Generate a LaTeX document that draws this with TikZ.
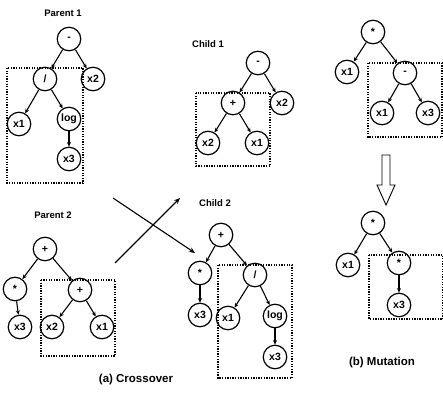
\documentclass[tikz,border=0pt]{standalone}
\usepackage{fontspec}
\setmainfont{Liberation Sans}
\usetikzlibrary{arrows.meta,calc}
\begin{document}
\begin{tikzpicture}[x=1pt,y=-1pt,
  tn/.style={circle,draw,line width=1.2pt,minimum size=23.5pt,inner sep=0pt,font=\bfseries\fontsize{10.5}{10.5}\selectfont},
  ttl/.style={font=\bfseries\fontsize{9.5}{9.5}\selectfont},
  captext/.style={font=\bfseries\fontsize{11.5}{11.5}\selectfont},
  ed/.style={line width=1.1pt,-{Stealth[length=4.5pt,width=4pt]}},
  subbox/.style={line width=1.3pt,dash pattern=on 1.3pt off 1.3pt},
  xarrow/.style={line width=1.1pt,-{Stealth[length=6pt,width=5pt]}}]
\useasboundingbox (0,0) rectangle (443,395);

% Parent 1
\node[ttl] (t1) at (63,13) {Parent 1};
\node[tn] (p1r) at (69,39) {-};
\node[tn] (p1d) at (45,79) {/};
\node[tn] (p1x2) at (93,79) {x2};
\node[tn] (p1x1) at (19,124) {x1};
\node[tn] (p1log) at (69,119) {log};
\node[tn] (p1x3) at (69,159) {x3};
\draw[ed] (p1r) -- (p1d);
\draw[ed] (p1r) -- (p1x2);
\draw[ed] (p1d) -- (p1x1);
\draw[ed] (p1d) -- (p1log);
\draw[ed] (p1log) -- (p1x3);
\draw[subbox] (7,68) rectangle (83,183);

% Child 1
\node[ttl] (t2) at (208,44) {Child 1};
\node[tn] (c1r) at (258,63) {-};
\node[tn] (c1p) at (233,103) {+};
\node[tn] (c1x2r) at (282,103) {x2};
\node[tn] (c1x2) at (208,143) {x2};
\node[tn] (c1x1) at (257,143) {x1};
\draw[ed] (c1r) -- (c1p);
\draw[ed] (c1r) -- (c1x2r);
\draw[ed] (c1p) -- (c1x2);
\draw[ed] (c1p) -- (c1x1);
\draw[subbox] (196,93) rectangle (270,166);

% Parent 2
\node[ttl] (t3) at (53,215) {Parent 2};
\node[tn] (p2r) at (45,249) {+};
\node[tn] (p2m) at (15,289) {*};
\node[tn] (p2p) at (80,290) {+};
\node[tn] (p2x3) at (20,327) {x3};
\node[tn] (p2x2) at (52,327) {x2};
\node[tn] (p2x1) at (102,327) {x1};
\draw[ed] (p2r) -- (p2m);
\draw[ed] (p2r) -- (p2p);
\draw[ed] (p2m) -- (p2x3);
\draw[ed] (p2p) -- (p2x2);
\draw[ed] (p2p) -- (p2x1);
\draw[subbox] (41,280) rectangle (115,356);

% Child 2
\node[ttl] (t4) at (215,203) {Child 2};
\node[tn] (c2r) at (221,235) {+};
\node[tn] (c2m) at (200,273) {*};
\node[tn] (c2d) at (255,275) {/};
\node[tn] (c2x3a) at (200,315) {x3};
\node[tn] (c2x1) at (228,318) {x1};
\node[tn] (c2log) at (275,316) {log};
\node[tn] (c2x3) at (275,357) {x3};
\draw[ed] (c2r) -- (c2m);
\draw[ed] (c2r) -- (c2d);
\draw[ed] (c2m) -- (c2x3a);
\draw[ed] (c2d) -- (c2x1);
\draw[ed] (c2d) -- (c2log);
\draw[ed] (c2log) -- (c2x3);
\draw[subbox] (218,265) rectangle (292,378);

% crossover arrows
\coordinate (xa1) at (113,198);
\coordinate (xb1) at (195,253);
\coordinate (xa2) at (115,263);
\coordinate (xb2) at (180,198);
\draw[xarrow] (xa1) -- (xb1);
\draw[xarrow] (xa2) -- (xb2);

% Mutation, before
\node[tn] (m1r) at (373,32) {*};
\node[tn] (m1x1) at (347,72) {x1};
\node[tn] (m1s) at (405,73) {-};
\node[tn] (m1x1b) at (382,113) {x1};
\node[tn] (m1x3) at (428,113) {x3};
\draw[ed] (m1r) -- (m1x1);
\draw[ed] (m1r) -- (m1s);
\draw[ed] (m1s) -- (m1x1b);
\draw[ed] (m1s) -- (m1x3);
\draw[subbox] (368,63) rectangle (442,137);

% hollow down arrow
\coordinate (ha) at (386,155);
\draw[line width=0.9pt,line join=miter]
  ($(ha)+(-4,0)$) -- ++(0,30) -- ++(-5,0) -- ($(ha)+(0,50)$) -- ($(ha)+(9,30)$) -- ++(-5,0) -- ($(ha)+(4,0)$) -- cycle;

% Mutation, after
\node[tn] (m2r) at (373,223) {*};
\node[tn] (m2x1) at (348,265) {x1};
\node[tn] (m2m) at (399,263) {*};
\node[tn] (m2x3) at (399,305) {x3};
\draw[ed] (m2r) -- (m2x1);
\draw[ed] (m2r) -- (m2m);
\draw[ed] (m2m) -- (m2x3);
\draw[subbox] (369,255) rectangle (443,319);

% captions
\node[captext] (ca) at (136,380) {(a) Crossover};
\node[captext] (cb) at (382,363) {(b) Mutation};
\end{tikzpicture}
\end{document}
